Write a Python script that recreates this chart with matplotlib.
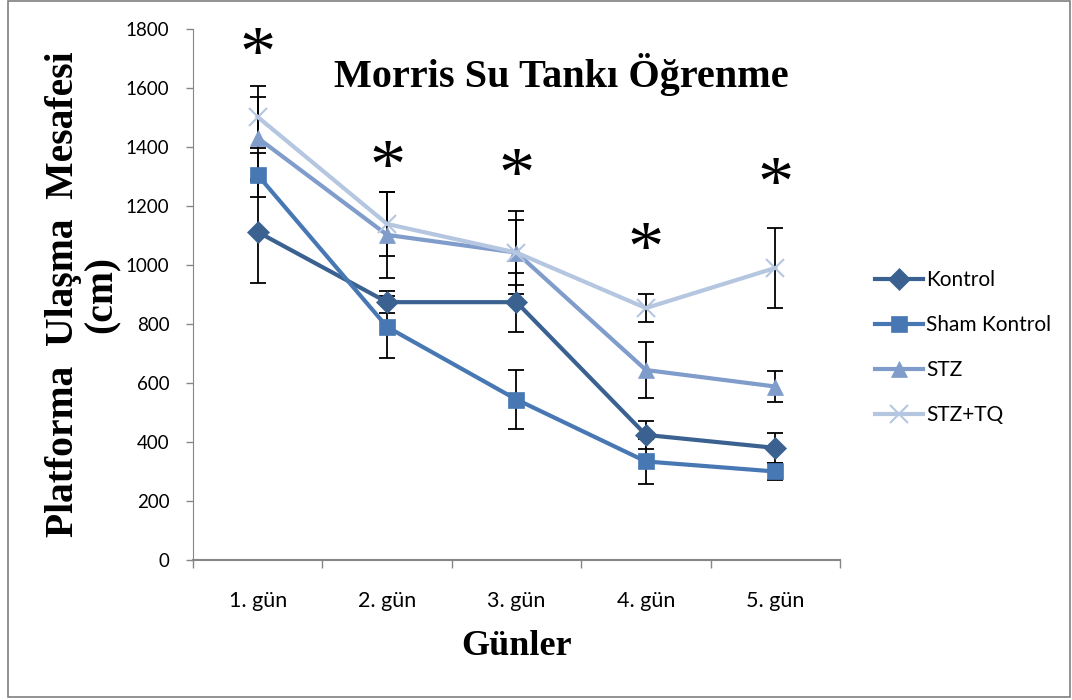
import matplotlib.pyplot as plt
from matplotlib.patches import Rectangle

gunler = ["1. gün", "2. gün", "3. gün", "4. gün", "5. gün"]
gruplar = ["Kontrol", "Sham Kontrol", "STZ", "STZ+TQ"]

kontrol = [1112, 874, 874, 424, 380]
sham = [1305, 790, 544, 334, 300]
stz = [1431, 1102, 1042, 644, 588]
stz_tq = [1502, 1139, 1042, 854, 990]

kontrol_hata = [173, 38, 100, 47, 51]
sham_hata = [75, 105, 100, 75, 30]
stz_hata = [140, 145, 110, 95, 53]
stz_tq_hata = [105, 110, 140, 46, 135]

# yildiz konumlari (cm ekseninde)
yildiz_y = [1756, 1373, 1346, 1095, 1315]

renkler = ["#3b6191", "#4878b4", "#7f9ccb", "#b5c6e0"]
isaretler = ["D", "s", "^", "x"]
boyutlar = [11, 12, 12, 13]

plt.rcParams["font.family"] = ["Lato", "DejaVu Sans"]

fig = plt.figure(figsize=(10.72, 7.0), dpi=100)
ax = fig.add_axes([0.18, 0.2, 0.6036, 0.7586])

x = list(range(1, len(gunler) + 1))
seriler = [kontrol, sham, stz, stz_tq]
hatalar = [kontrol_hata, sham_hata, stz_hata, stz_tq_hata]

for veri, hata in zip(seriler, hatalar):
    ax.errorbar(x, veri, yerr=hata, fmt="none", ecolor="black",
                elinewidth=1.3, capsize=6, capthick=1.3, zorder=2)

for veri, ad, renk, isaret, boy in zip(seriler, gruplar, renkler, isaretler, boyutlar):
    ax.plot(x, veri, color=renk, lw=3, marker=isaret, markersize=boy,
            markeredgewidth=1.5 if isaret == "x" else 0.5,
            markeredgecolor=renk, label=ad, zorder=3)

for xi, yi in zip(x, yildiz_y):
    ax.annotate("*", (xi, yi), xytext=(0, -11), textcoords="offset points",
                ha="center", va="center", fontsize=52,
                family="Liberation Serif", color="black")

ax.set_xlim(0.5, 5.5)
ax.set_ylim(0, 1800)
ax.set_yticks(range(0, 1801, 200))
ax.set_xticks(x)
ax.set_xticklabels(gunler)
ax.set_xticks([i + 0.5 for i in range(0, 6)], minor=True)
ax.tick_params(axis="x", which="major", length=0, pad=22, labelsize=15.5)
ax.tick_params(axis="x", which="minor", length=6, color="#868686", width=1)
ax.tick_params(axis="y", length=5, color="#868686", width=1, labelsize=13.5, pad=12)

for s in ["top", "right"]:
    ax.spines[s].set_visible(False)
for s in ["left", "bottom"]:
    ax.spines[s].set_color("#868686")
ax.spines["bottom"].set_linewidth(1.5)

ax.set_ylabel("Platforma  Ulaşma  Mesafesi\n(cm)", family="Liberation Serif",
              fontweight="bold", fontsize=28.5, linespacing=1.05, labelpad=4)
ax.set_xlabel("Günler", family="Liberation Serif", fontweight="bold",
              fontsize=26, labelpad=14)

fig.text(0.524, 0.893, "Morris Su Tankı Öğrenme", ha="center", va="center",
         family="Liberation Serif", fontweight="bold", fontsize=29)

ax.legend(loc="center left", bbox_to_anchor=(1.025, 0.40), frameon=False,
          fontsize=15, handlelength=2.3, handletextpad=0.15, labelspacing=1.2)

fig.patches.append(Rectangle((0.0075, 0.005), 0.9905, 0.993, transform=fig.transFigure,
                             fill=False, edgecolor="#7f7f7f", lw=1.2))

fig.savefig("out.png", dpi=100)
